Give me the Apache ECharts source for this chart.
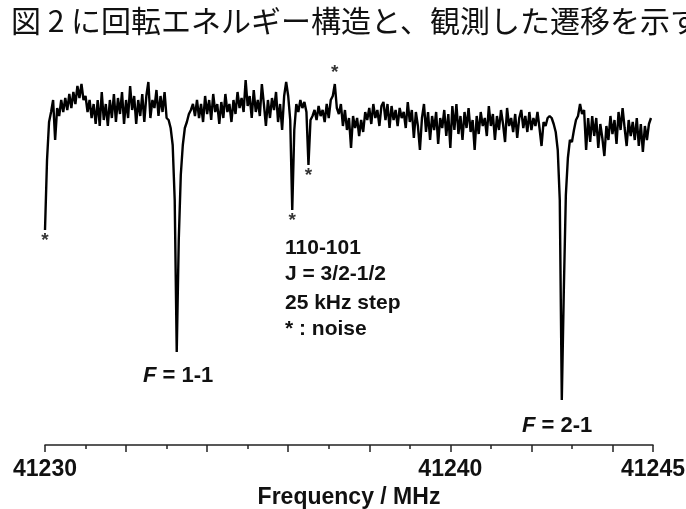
<!DOCTYPE html>
<html>
<head>
<meta charset="utf-8">
<script src="https://cdn.jsdelivr.net/npm/echarts@6/dist/echarts.min.js"></script>
<style>
  html, body { margin: 0; padding: 0; background: #fff; }
  #main { width: 686px; height: 509px; }
</style>
</head>
<body>
<div id="main"></div>
<script>
// sweep: 41230 - 41245 MHz, every 0.05 MHz
const freqStart = 41230;
const freqStep = 0.05;
// signal (arb. units), higher = less absorption
const intensity = [
  215, 285, 323, 333, 345, 305, 337, 329, 345, 333, 347, 335, 351, 337, 353, 341, 359, 347, 361, 345,
  349, 333, 345, 327, 341, 321, 345, 319, 353, 325, 341, 319, 345, 327, 351, 323, 347, 331, 353, 321,
  345, 327, 359, 335, 349, 321, 345, 329, 351, 323, 349, 363, 327, 345, 337, 355, 329, 349, 333, 353,
  327, 325, 317, 300, 245, 93, 205, 270, 300, 317, 323, 331, 335, 341, 329, 345, 327, 341, 323, 349,
  331, 345, 325, 351, 333, 341, 321, 343, 327, 351, 333, 341, 323, 345, 331, 353, 337, 347, 333, 365,
  339, 349, 327, 355, 333, 345, 329, 361, 341, 319, 345, 327, 347, 335, 353, 323, 341, 315, 349, 363,
  349, 325, 235, 315, 341, 333, 345, 337, 343, 333, 280, 325, 329, 335, 325, 339, 329, 335, 323, 341,
  327, 345, 349, 361, 337, 331, 341, 319, 335, 315, 327, 297, 329, 317, 327, 309, 325, 313, 333, 325,
  337, 321, 341, 327, 335, 319, 339, 343, 325, 341, 317, 339, 325, 335, 319, 337, 327, 333, 317, 343,
  323, 335, 307, 333, 319, 295, 327, 341, 313, 333, 305, 329, 315, 333, 301, 327, 317, 335, 309, 331,
  297, 339, 315, 341, 311, 329, 305, 333, 317, 337, 313, 325, 295, 329, 311, 333, 319, 327, 309, 339,
  319, 331, 305, 329, 315, 335, 321, 303, 337, 319, 327, 313, 331, 307, 327, 335, 317, 329, 313, 333,
  315, 327, 319, 333, 317, 299, 323, 319, 327, 329, 327, 321, 313, 295, 245, 45, 155, 250, 287, 305,
  303, 315, 325, 329, 341, 331, 335, 295, 327, 303, 329, 309, 327, 297, 321, 307, 289, 319, 305, 329,
  311, 325, 301, 333, 315, 337, 317, 299, 325, 309, 323, 305, 327, 299, 321, 293, 319, 305, 321, 327
];
// spurious features marked with *
const noiseFreqs = [41230.0, 41236.1, 41236.5, 41237.15];
const noiseLevels = [215, 235, 280, 361];
const noiseSides = ['bottom', 'bottom', 'bottom', 'top'];

const shownTicks = [41230, 41240, 41245];
const longTicks = [41230, 41232, 41234, 41236, 41238, 41240, 41242, 41244, 41245];
const shortTicks = [41231, 41233, 41235, 41237, 41239, 41241, 41243];

const spectrum = intensity.map((v, i) => [+(freqStart + i * freqStep).toFixed(2), v]);
const stars = noiseFreqs.map((f, i) => ({
  value: [f, noiseLevels[i]],
  label: { position: noiseSides[i] }
}));

const font = '"Liberation Sans", Arial, sans-serif';

let chart = echarts.init(document.getElementById('main'));

chart.setOption({
  animation: false,
  backgroundColor: '#fff',
  grid: [
    { left: 45, right: 33, top: 60, bottom: 64, outerBoundsMode: 'none' },
    { left: 45, right: 33, top: 60, bottom: 64, outerBoundsMode: 'none' }
  ],
  xAxis: [
    {
      type: 'value', gridIndex: 0,
      min: 41230, max: 41245, interval: 1,
      splitLine: { show: false },
      axisLine: { lineStyle: { color: '#222', width: 1.5 } },
      axisTick: { length: 7, customValues: longTicks, lineStyle: { color: '#222', width: 1.5 } },
      axisLabel: {
        margin: 13,
        customValues: shownTicks,
        formatter: (v) => String(v),
        fontSize: 23, fontWeight: 'bold', fontFamily: font, color: '#111'
      },
      name: 'Frequency / MHz',
      nameLocation: 'middle',
      nameGap: 30,
      nameTextStyle: { fontSize: 23, fontWeight: 'bold', fontFamily: font, color: '#111' }
    },
    {
      // odd-MHz short ticks
      type: 'value', gridIndex: 1, position: 'bottom',
      min: 41230, max: 41245, interval: 1,
      splitLine: { show: false },
      axisLine: { show: false },
      axisTick: { length: 4, customValues: shortTicks, lineStyle: { color: '#222', width: 1.5 } },
      axisLabel: { show: false }
    }
  ],
  yAxis: [
    { type: 'value', gridIndex: 0, min: 0, max: 385, show: false },
    { type: 'value', gridIndex: 1, min: 0, max: 385, show: false }
  ],
  series: [
    {
      name: 'spectrum',
      type: 'line',
      xAxisIndex: 0, yAxisIndex: 0,
      data: spectrum,
      showSymbol: false,
      symbol: 'none',
      lineStyle: { color: '#000', width: 2.4 }
    },
    {
      name: 'noise',
      type: 'scatter',
      xAxisIndex: 0, yAxisIndex: 0,
      data: stars,
      symbolSize: 1,
      itemStyle: { color: 'rgba(0,0,0,0)' },
      label: {
        show: true,
        formatter: '*',
        distance: 1,
        fontSize: 19, fontWeight: 'bold', fontFamily: font, color: '#000'
      }
    }
  ],
  graphic: [
    {
      type: 'text', left: 11, top: 6,
      style: {
        text: '図 2 に回転エネルギー構造と、観測した遷移を示す',
        font: '30px "Noto Sans CJK JP"',
        fill: '#111'
      }
    },
    { type: 'text', left: 285, top: 238, style: { text: '110-101', font: 'bold 21px ' + font, fill: '#111' } },
    { type: 'text', left: 285, top: 264, style: { text: 'J = 3/2-1/2', font: 'bold 21px ' + font, fill: '#111' } },
    { type: 'text', left: 285, top: 293, style: { text: '25 kHz step', font: 'bold 21px ' + font, fill: '#111' } },
    { type: 'text', left: 285, top: 319, style: { text: '* : noise', font: 'bold 21px ' + font, fill: '#111' } },
    {
      type: 'text', left: 143, top: 365,
      style: {
        text: '{i|F} = 1-1', font: 'bold 22px ' + font, fill: '#111',
        rich: { i: { fontStyle: 'italic', fontWeight: 'bold', fontSize: 22, fontFamily: font } }
      }
    },
    {
      type: 'text', left: 522, top: 415,
      style: {
        text: '{i|F} = 2-1', font: 'bold 22px ' + font, fill: '#111',
        rich: { i: { fontStyle: 'italic', fontWeight: 'bold', fontSize: 22, fontFamily: font } }
      }
    }
  ]
});

window.onresize = function () {
  chart.resize();
};
</script>
</body>
</html>
